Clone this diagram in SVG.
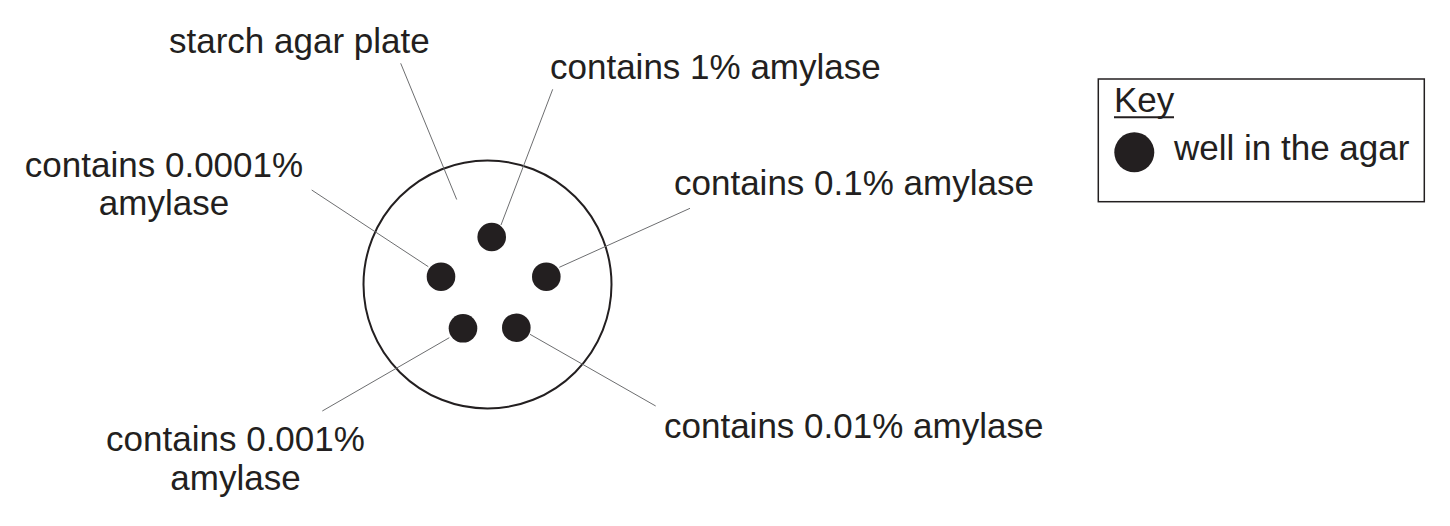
<svg xmlns="http://www.w3.org/2000/svg" width="1450" height="526" viewBox="0 0 1450 526">
<style>
text{font-family:"Liberation Sans",Arial,sans-serif;font-size:35px;fill:#231f20}
.lead{stroke:#6d6e70;stroke-width:1;fill:none}
.well{fill:#231f20}
</style>
<rect width="1450" height="526" fill="#ffffff"/>
<g id="plate">
<circle cx="487.5" cy="284.5" r="124" fill="none" stroke="#231f20" stroke-width="2"/>
</g>
<g id="wells">
<circle id="well-1" class="well" cx="491.7" cy="237" r="14.3"/>
<circle id="well-0.1" class="well" cx="546.3" cy="276.7" r="14.3"/>
<circle id="well-0.01" class="well" cx="516.3" cy="327.7" r="14.3"/>
<circle id="well-0.001" class="well" cx="463" cy="328.3" r="14.3"/>
<circle id="well-0.0001" class="well" cx="441" cy="276.7" r="14.3"/>
</g>
<g id="connectors">
<line class="lead" x1="400.7" y1="63.3" x2="456.7" y2="199.5"/>
<line class="lead" x1="552.7" y1="89.3" x2="501" y2="225"/>
<line class="lead" x1="690" y1="208.3" x2="559.3" y2="267.3"/>
<line class="lead" x1="655.7" y1="406" x2="530" y2="334.3"/>
<line class="lead" x1="322.3" y1="411" x2="449.3" y2="337.7"/>
<line class="lead" x1="311.7" y1="190" x2="428.3" y2="266.7"/>
</g>
<g id="labels">
<text x="169" y="53.3">starch agar plate</text>
<text x="550" y="79.3">contains 1% amylase</text>
<text x="674" y="195">contains 0.1% amylase</text>
<text x="664" y="438.3">contains 0.01% amylase</text>
<text x="235.5" y="450.7" text-anchor="middle">contains 0.001%</text>
<text x="235.5" y="490" text-anchor="middle">amylase</text>
<text x="164" y="176.7" text-anchor="middle">contains 0.0001%</text>
<text x="164" y="215" text-anchor="middle">amylase</text>
</g>
<g id="key">
<rect x="1098.3" y="79" width="326" height="122.7" fill="none" stroke="#231f20" stroke-width="1.5"/>
<text x="1114" y="111.7">Key</text>
<line x1="1114" y1="117.3" x2="1174" y2="117.3" stroke="#231f20" stroke-width="2"/>
<circle class="well" cx="1134.3" cy="152.3" r="20"/>
<text x="1174" y="160">well in the agar</text>
</g>
</svg>
